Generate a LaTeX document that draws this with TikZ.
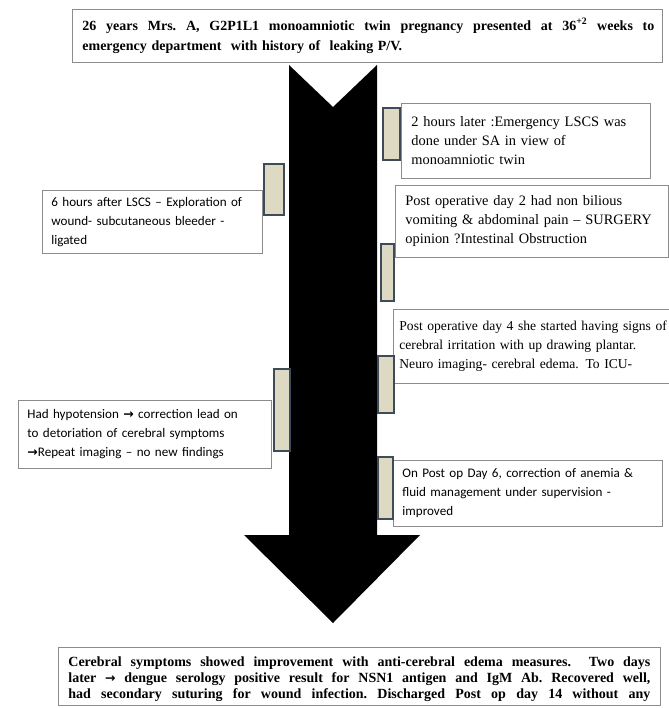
\documentclass[tikz,border=0pt]{standalone}
\usepackage{fontspec}
\setmainfont{Liberation Serif}
\newfontfamily\calibri{Carlito}
\newfontfamily\arrowfont{DejaVu Sans}
\definecolor{notegray}{HTML}{8C8C8C}
\definecolor{barfill}{HTML}{DDD9C3}
\definecolor{baredge}{HTML}{3E4C59}
\newcommand{\thento}{{\arrowfont\bfseries\fontsize{12.5}{12}\selectfont →}}
% one justified line of a given width
\newcommand{\fullline}[2]{\makebox[#1][s]{\frenchspacing\spaceskip=0pt\xspaceskip=0pt #2}}

\begin{document}
\begin{tikzpicture}[x=1pt, y=-1pt,
    note/.style={draw=notegray, fill=white, line width=0.8pt, anchor=north west, inner xsep=10pt, inner ysep=0pt, align=left},
    serifnote/.style={note, font=\fontsize{14.4}{19}\selectfont},
    sansnote/.style={note, inner xsep=9pt, font=\calibri\fontsize{13.1}{19}\selectfont},
    boldnote/.style={note, font=\bfseries\fontsize{14}{20}\selectfont},
    linkbar/.style={draw=baredge, fill=barfill, line width=1.6pt, anchor=north west, inner sep=0pt}]
    \useasboundingbox (0,0) rectangle (668,708);

    % the time line
    \fill (289,65) -- (333,107) -- (377,65) -- (377,535) -- (420,535) -- (333,623) -- (244,535) -- (289,535) -- cycle;

    \node[boldnote, text width=570pt, minimum height=53pt] (admit) at (72,9)
        {\fullline{572pt}{26 years Mrs. A, G2P1L1 monoamniotic twin pregnancy presented at 36\textsuperscript{+2} weeks to}\\
         emergency department\ \ with history of\ \ leaking P/V.};

    % right side events
    \node[serifnote, text width=229pt, minimum height=75pt] (lscs) at (401,103)
        {2 hours later :Emergency LSCS was\\ done under SA in view of\\ monoamniotic twin};
    \node[serifnote, text width=253pt, minimum height=72pt] (vomit) at (395,185)
        {Post operative day 2 had non bilious\\ vomiting \& abdominal pain – SURGERY\\ opinion ?Intestinal Obstruction};
    \node[serifnote, font=\fontsize{13.6}{19}\selectfont, inner xsep=6pt, text width=300pt, minimum height=74pt] (edema) at (393,309)
        {Post operative day 4 she started having signs of\\ cerebral irritation with up drawing plantar.\\ Neuro imaging- cerebral edema. To ICU-};
    \node[sansnote, text width=251pt, minimum height=66pt] (anemia) at (393,460)
        {On Post op Day 6, correction of anemia \&\\ fluid management under supervision -\\ improved};

    % left side events
    \node[sansnote, text width=202pt, minimum height=63pt] (explore) at (42,190)
        {6 hours after LSCS – Exploration of\\ wound- subcutaneous bleeder -\\ ligated};
    \node[sansnote, text width=235pt, minimum height=68pt] (hypo) at (18,400)
        {Had hypotension \thento{} correction lead on\\ to detoriation of cerebral symptoms\\ \thento Repeat imaging – no new findings};

    \node[linkbar, minimum width=17pt, minimum height=52pt] (barRa) at (382,107) {};
    \node[linkbar, minimum width=20pt, minimum height=51pt] (barLa) at (263,163) {};
    \node[linkbar, minimum width=13pt, minimum height=57pt] (barRb) at (380,243) {};
    \node[linkbar, minimum width=16pt, minimum height=57pt] (barRc) at (377,355) {};
    \node[linkbar, minimum width=16pt, minimum height=82pt] (barLb) at (273,368) {};
    \node[linkbar, minimum width=15pt, minimum height=62pt] (barRd) at (377,456) {};

    \node[boldnote, font=\bfseries\fontsize{14}{16}\selectfont, text width=582pt, inner ysep=9pt, text depth=30pt] (outcome) at (58,647)
        {\fullline{582pt}{Cerebral symptoms showed improvement with anti-cerebral edema measures.\ \ Two days}\\
         \fullline{582pt}{later \thento{} dengue serology positive result for NSN1 antigen and IgM Ab. Recovered well,}\\
         \fullline{582pt}{had secondary suturing for wound infection. Discharged Post op day 14 without any}};
\end{tikzpicture}
\end{document}
